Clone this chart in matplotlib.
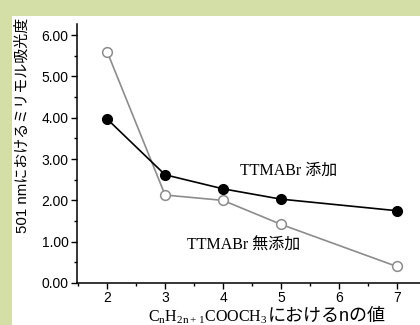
import matplotlib
matplotlib.use('Agg')
import matplotlib.pyplot as plt
from matplotlib.patches import Rectangle
from matplotlib.ticker import MultipleLocator, FormatStrFormatter

# Data
n_values = [2, 3, 4, 5, 7]
with_ttmabr = [3.97, 2.62, 2.28, 2.03, 1.75]
without_ttmabr = [5.60, 2.13, 2.00, 1.42, 0.40]
label_with = 'TTMABr 添加'
label_without = 'TTMABr 無添加'
ylabel = '501 nmにおけるミリモル吸光度'

GREEN = '#d3dfa6'
SERIF_JP = ['Liberation Serif', 'Noto Sans CJK JP']
SANS_JP = ['Liberation Sans', 'Noto Sans CJK JP']

fig = plt.figure(figsize=(4.2, 3.25), dpi=100, facecolor=GREEN)
# white panel, green strip on left and top
fig.patches.append(Rectangle((12/420, 0), 1, 1 - 16/325, transform=fig.transFigure,
                             facecolor='white', edgecolor='none', zorder=-5))

ax = fig.add_axes([77/420, 1 - 283/325, 1 - 77/420, (283 - 24)/325])
ax.set_facecolor('none')

ax.plot(n_values, without_ttmabr, color='#8c8c8c', lw=1.2, marker='o', ms=7,
        mfc='white', mec='#8c8c8c', mew=1.1, zorder=3)
ax.plot(n_values, with_ttmabr, color='black', lw=1.2, marker='o', ms=7,
        mfc='black', mec='black', zorder=4)

ax.set_xlim(1.48, 7.4)
ax.set_ylim(0, 6.27)
ax.xaxis.set_major_locator(MultipleLocator(1))
ax.xaxis.set_minor_locator(MultipleLocator(0.5))
ax.yaxis.set_major_locator(MultipleLocator(1))
ax.yaxis.set_minor_locator(MultipleLocator(0.5))
ax.yaxis.set_major_formatter(FormatStrFormatter('%.2f'))
ax.tick_params(which='major', length=4, width=1, labelsize=10, pad=2)
ax.tick_params(which='minor', length=2.5, width=1)
for lab in ax.get_xticklabels() + ax.get_yticklabels():
    lab.set_family('Liberation Sans')

for side in ['top', 'right']:
    ax.spines[side].set_visible(False)
for side in ['left', 'bottom']:
    ax.spines[side].set_linewidth(1.1)

ax.text(5.14, 2.72, label_with, family=SERIF_JP, fontsize=11.5, ha='center', va='center')
ax.text(4.36, 0.90, label_without, family=SERIF_JP, fontsize=11.5, ha='center', va='center')

fig.text(22/420, 1 - 125/325, ylabel, family=SANS_JP, fontsize=10.8,
         rotation=90, ha='center', va='center')

# x label: chemical formula in serif, rest in Japanese
t1 = fig.text(148/420, 1 - 321/325, r'C$_\mathregular{n}$H$_\mathregular{2n+1}$COOCH$_\mathregular{3}$',
              family='Liberation Serif', fontsize=11.5, ha='left', va='baseline')
fig.text(0, 0, 'におけるnの値', family=SANS_JP, fontsize=13, ha='left', va='baseline',
         transform=t1.get_transform())
fig.canvas.draw()
bb = t1.get_window_extent()
fig.texts[-1].set_position((bb.x1 / fig.bbox.width, 1 - 321/325))

fig.savefig('out.png', dpi=100, facecolor=GREEN)
